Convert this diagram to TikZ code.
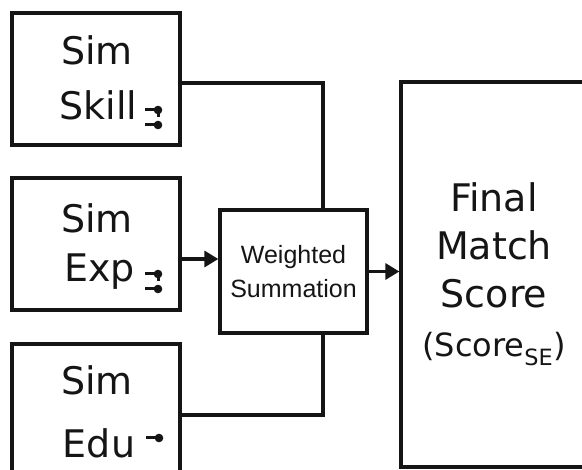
\documentclass[tikz,border=0pt]{standalone}
\usepackage{fontspec}
\setmainfont{DejaVu Sans}
\newfontfamily\labelsans{Liberation Sans}
\usetikzlibrary{arrows.meta}
\definecolor{ink}{HTML}{151515}
\tikzset{
  box/.style={draw=ink, line width=3.3pt, fill=white, inner sep=0pt},
  conn/.style={draw=ink, line width=3.3pt},
  arr/.style={conn, -{Triangle[length=14pt,width=16pt]}},
  big/.style={text=ink, inner sep=0pt, anchor=base, font=\fontsize{38}{40}\selectfont},
  mid/.style={text=ink, inner sep=0pt, anchor=base, font=\labelsans\fontsize{25}{28}\selectfont},
  stub/.style={draw=ink, line width=3pt},
  stubdot/.style={fill=ink, draw=none},
}
\begin{document}
\begin{tikzpicture}[x=1pt, y=-1pt]
\useasboundingbox (0,0) rectangle (582,470);
\clip (0,0) rectangle (582,470);
\fill[white] (0,0) rectangle (582,470);

% input boxes
\node[box, minimum width=168pt, minimum height=132pt] (skill) at (96,79) {};
\node[box, minimum width=168pt, minimum height=132pt] (exp) at (96,244) {};
\node[box, minimum width=168pt, minimum height=146pt] (edu) at (96,417) {};

% summation and result boxes
\node[box, minimum width=147pt, minimum height=123pt] (wsum) at (293.5,271.5) {};
\node[box, minimum width=218pt, minimum height=385pt] (final) at (510,274.5) {};

% box labels
\node[big] (skillA) at (97,65) {Sim};
\node[big] (skillB) at (98.5,120) {Skill};
\node[big] (expA) at (97,233) {Sim};
\node[big] (expB) at (99.5,282) {Exp};
\node[big] (eduA) at (97,395) {Sim};
\node[big] (eduB) at (99,458) {Edu};

\node[mid] (wsumA) at (293.5,264) {Weighted};
\node[mid] (wsumB) at (293.5,298) {Summation};

\node[big] (finA) at (494,212) {Final};
\node[big] (finB) at (494,260) {Match};
\node[big] (finC) at (494,308) {Score};
\node[big, font=\fontsize{32}{40}\selectfont] (finD) at (494,357) {(Score\textsubscript{SE})};

% small stub marks after the labels
\draw[stub] (145,110) -- (158,110) -- (158,117);
\fill[stubdot] (158,110) circle (4.3pt);
\draw[stub] (145,125) -- (158,125);
\fill[stubdot] (158,125) circle (4.3pt);

\draw[stub] (145,274) -- (158,274) -- (158,281);
\fill[stubdot] (158,274) circle (4.3pt);
\draw[stub] (145,289) -- (158,289);
\fill[stubdot] (158,289) circle (4.3pt);

\draw[stub] (146,438) -- (159,438);
\fill[stubdot] (159,438) circle (4.3pt);

% connectors
\coordinate (jtop) at (323,83);
\coordinate (jbot) at (323,415);
\coordinate (jin) at (0,259);
\draw[conn] (skill.east |- jtop) -- (jtop) -- (jtop |- wsum.north);
\draw[conn] (edu.east |- jbot) -- (jbot) -- (jbot |- wsum.south);
\draw[arr] (exp.east |- jin) -- (wsum.west |- jin);
\draw[arr] (wsum.east) -- (final.west |- wsum.east);
\end{tikzpicture}
\end{document}
